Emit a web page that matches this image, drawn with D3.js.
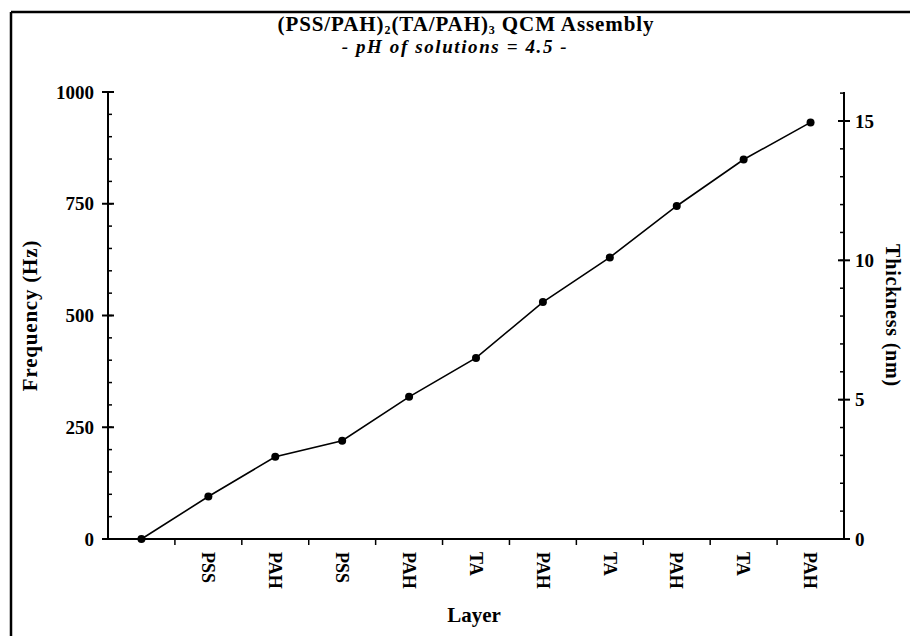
<!DOCTYPE html>
<html>
<head>
<meta charset="utf-8">
<script src="https://cdn.jsdelivr.net/npm/d3@7"></script>
<style>
  html, body { margin: 0; padding: 0; background: #fff; }
  svg { display: block; font-family: "Liberation Serif", "Times New Roman", serif; }
</style>
</head>
<body>
<svg id="chart" width="910" height="636"></svg>
<script>
// Layer sequence of the QCM assembly (first point is the bare crystal)
const layers = ["", "PSS", "PAH", "PSS", "PAH", "TA", "PAH", "TA", "PAH", "TA", "PAH"];
// Frequency shift after each layer (Hz)
const frequency = [0, 95, 184, 220, 318, 405, 530, 630, 745, 849, 932];
// Axis tick values
const freqTicks = [0, 250, 500, 750, 1000];
const freqMinorStep = 50;
const thickTicks = [0, 5, 10, 15];
const thickMinorStep = 1;
const thickMax = 16.04;

const svg = d3.select("#chart");
const W = 910, H = 636;
const m = { left: 108, right: 66, top: 92, bottom: 97 };
const x0 = m.left, x1 = W - m.right, y0 = H - m.bottom, y1 = m.top;

const x = d3.scaleBand().domain(d3.range(layers.length)).range([x0, x1]);
const yF = d3.scaleLinear().domain([0, 1000]).range([y0, y1]);
const yT = d3.scaleLinear().domain([0, thickMax]).range([y0, y1]);

// Page frame (top and left rules)
svg.append("line").attr("x1", 11).attr("x2", W).attr("y1", 12).attr("y2", 12)
  .attr("stroke", "#000").attr("stroke-width", 2.5);
svg.append("line").attr("x1", 11).attr("x2", 11).attr("y1", 12).attr("y2", H)
  .attr("stroke", "#000").attr("stroke-width", 2.5);

// Title
const title = svg.append("text").attr("x", 466).attr("y", 31)
  .attr("text-anchor", "middle").attr("font-size", 21).attr("font-weight", "bold")
  .attr("letter-spacing", 0.9);
title.append("tspan").text("(PSS/PAH)");
title.append("tspan").attr("font-size", 12).attr("dy", 3).text("2");
title.append("tspan").attr("dy", -3).text("(TA/PAH)");
title.append("tspan").attr("font-size", 12).attr("dy", 3).text("3");
title.append("tspan").attr("dy", -3).text(" QCM Assembly");

svg.append("text").attr("x", 455).attr("y", 53)
  .attr("text-anchor", "middle").attr("font-size", 19).attr("font-weight", "bold")
  .attr("font-style", "italic").attr("letter-spacing", 1.6)
  .text("- pH of solutions = 4.5 -");

// Left axis: frequency
const gL = svg.append("g");
gL.append("line").attr("x1", x0).attr("x2", x0).attr("y1", y0).attr("y2", y1)
  .attr("stroke", "#000").attr("stroke-width", 2);
gL.selectAll("line.minor").data(d3.range(0, 1001, freqMinorStep)).join("line")
  .attr("class", "minor").attr("x1", x0).attr("x2", x0 + 4)
  .attr("y1", d => yF(d)).attr("y2", d => yF(d)).attr("stroke", "#000").attr("stroke-width", 1.5);
gL.selectAll("line.major").data(freqTicks).join("line")
  .attr("class", "major").attr("x1", x0 - 6).attr("x2", x0 + 6)
  .attr("y1", d => yF(d)).attr("y2", d => yF(d)).attr("stroke", "#000").attr("stroke-width", 2);
gL.selectAll("text").data(freqTicks).join("text")
  .attr("x", x0 - 14).attr("y", d => yF(d)).attr("dy", "0.35em")
  .attr("text-anchor", "end").attr("font-size", 19).attr("font-weight", "bold")
  .text(d => d);

// Right axis: thickness
const gR = svg.append("g");
gR.append("line").attr("x1", x1).attr("x2", x1).attr("y1", y0).attr("y2", y1)
  .attr("stroke", "#000").attr("stroke-width", 2);
gR.selectAll("line.minor").data(d3.range(0, 16.001, thickMinorStep)).join("line")
  .attr("class", "minor").attr("x1", x1 - 4).attr("x2", x1)
  .attr("y1", d => yT(d)).attr("y2", d => yT(d)).attr("stroke", "#000").attr("stroke-width", 1.5);
gR.selectAll("line.major").data(thickTicks).join("line")
  .attr("class", "major").attr("x1", x1 - 6).attr("x2", x1 + 6)
  .attr("y1", d => yT(d)).attr("y2", d => yT(d)).attr("stroke", "#000").attr("stroke-width", 2);
gR.selectAll("text").data(thickTicks).join("text")
  .attr("x", x1 + 11).attr("y", d => yT(d)).attr("dy", "0.35em")
  .attr("text-anchor", "start").attr("font-size", 19).attr("font-weight", "bold")
  .text(d => d);

// Bottom axis: layers
const gB = svg.append("g").attr("transform", `translate(0,${y0})`);
gB.append("line").attr("x1", x0).attr("x2", x1).attr("stroke", "#000").attr("stroke-width", 2);
gB.selectAll("line.tick").data(d3.range(1, layers.length)).join("line")
  .attr("class", "tick").attr("x1", d => x(d)).attr("x2", d => x(d))
  .attr("y1", 0).attr("y2", 6).attr("stroke", "#000").attr("stroke-width", 1.5);
gB.selectAll("text").data(d3.range(layers.length)).join("text")
  .attr("transform", d => `translate(${x(d) + x.bandwidth() / 2},13) rotate(90)`)
  .attr("dy", "0.35em").attr("text-anchor", "start")
  .attr("font-size", 18).attr("font-weight", "bold")
  .text(d => layers[d]);

// Axis titles
svg.append("text").attr("transform", `translate(37,${(y0 + y1) / 2}) rotate(-90)`)
  .attr("text-anchor", "middle").attr("font-size", 21).attr("font-weight", "bold")
  .attr("letter-spacing", 0.8).text("Frequency (Hz)");
svg.append("text").attr("transform", `translate(886,${(y0 + y1) / 2}) rotate(90)`)
  .attr("text-anchor", "middle").attr("font-size", 20).attr("font-weight", "bold")
  .attr("letter-spacing", 0.8).text("Thickness (nm)");
svg.append("text").attr("x", 474).attr("y", 622)
  .attr("text-anchor", "middle").attr("font-size", 21).attr("font-weight", "bold")
  .text("Layer");

// Data line and markers
const cx = i => x(i) + x.bandwidth() / 2;
const line = d3.line().x((d, i) => cx(i)).y(d => yF(d));
svg.append("path").datum(frequency).attr("d", line)
  .attr("fill", "none").attr("stroke", "#000").attr("stroke-width", 1.6);
svg.selectAll("circle.pt").data(frequency).join("circle")
  .attr("class", "pt").attr("cx", (d, i) => cx(i)).attr("cy", d => yF(d))
  .attr("r", 4).attr("fill", "#000");
</script>
</body>
</html>
